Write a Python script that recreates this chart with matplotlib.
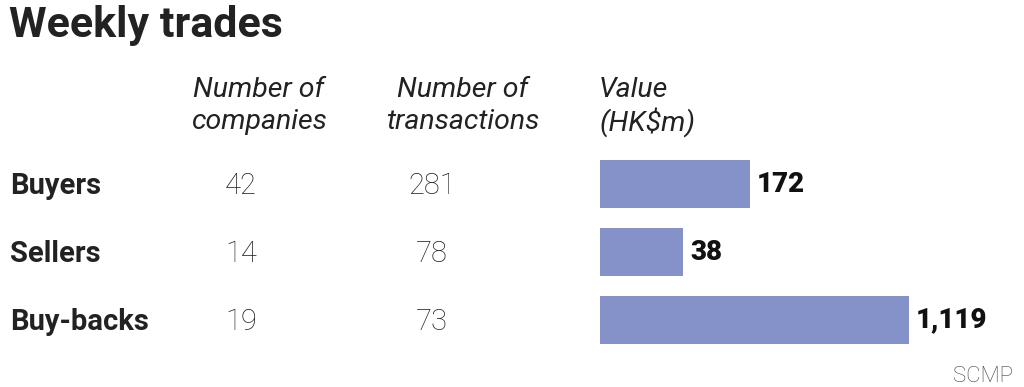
import matplotlib
matplotlib.use("Agg")
import matplotlib.pyplot as plt
import numpy as np

categories = ["Buyers", "Sellers", "Buy-backs"]
companies = [42, 14, 19]
transactions = [281, 78, 73]
values = [172, 38, 1119]
value_labels = ["172", "38", "1,119"]

W, H = 1024, 387
fig = plt.figure(figsize=(W / 100, H / 100), dpi=100)
fig.patch.set_facecolor("white")
FONT = "Roboto"
TXT = "#222222"

def fx(px):
    return px / W

def fy(py):
    return 1 - py / H

fig.text(fx(9), fy(25), "Weekly trades", fontsize=31, fontweight="semibold",
         family=FONT, color=TXT, va="center", ha="left")

# headers
hdr = dict(fontsize=20.5, style="italic", fontweight="normal", family=FONT, color=TXT, va="center")
fig.text(fx(259), fy(90), "Number of", ha="center", **hdr)
fig.text(fx(259), fy(122), "companies", ha="center", **hdr)
fig.text(fx(463), fy(90), "Number of", ha="center", **hdr)
fig.text(fx(463), fy(122), "transactions", ha="center", **hdr)
fig.text(fx(599), fy(90), "Value", ha="left", **hdr)
fig.text(fx(599), fy(122), "(HK$m)", ha="left", **hdr)

row_y = [186, 254, 322]
for i, cat in enumerate(categories):
    fig.text(fx(10), fy(row_y[i]), cat, fontsize=21, fontweight="bold", family=FONT,
             color=TXT, va="center", ha="left")
    fig.text(fx(241), fy(row_y[i]), str(companies[i]), fontsize=21, fontweight="light",
             family=FONT, color=TXT, va="center", ha="center")
    fig.text(fx(432), fy(row_y[i]), str(transactions[i]), fontsize=21, fontweight="light",
             family=FONT, color=TXT, va="center", ha="center")

# bars (compressed power scale, as in the graphic)
p = 0.387
ax = fig.add_axes([fx(600), 32.8 / H, (W - 600) / W, 204 / H])
ax.set_xscale("function", functions=(lambda v: np.power(np.clip(v, 0, None), p),
                                     lambda v: np.power(np.clip(v, 0, None), 1 / p)))
ypos = np.arange(len(categories))
ax.barh(ypos, values, height=0.706, color="#8592c9", edgecolor="none")
ax.set_xlim(0, 2540)
ax.set_ylim(2.5, -0.5)
ax.axis("off")
for i, v in enumerate(values):
    ax.annotate(value_labels[i], (v, ypos[i]), xytext=(5, 0), textcoords="offset points",
                ha="left", va="center", fontsize=20, fontweight="black", family=FONT,
                color="#111111")

fig.text(fx(1013), fy(376), "SCMP", fontsize=16, fontweight="light", family=FONT,
         color="#444444", ha="right", va="center")

fig.savefig("out.png", dpi=100, facecolor="white")
